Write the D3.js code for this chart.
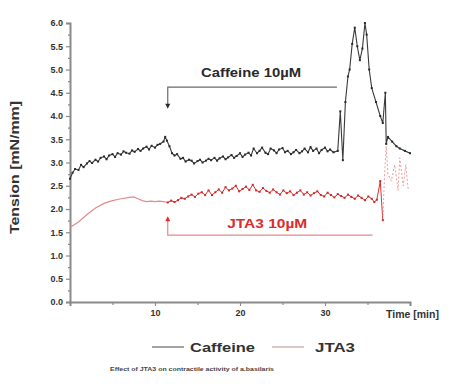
<!DOCTYPE html>
<html>
<head>
<meta charset="utf-8">
<script src="https://cdn.jsdelivr.net/npm/d3@7"></script>
<style>
  body { margin: 0; background: #fff; }
  svg { display: block; font-family: "Liberation Sans", Arial, sans-serif; font-weight: bold; }
</style>
</head>
<body>
<div id="chart"></div>
<script>
// Caffeine trace (time in min, tension in mN/mm)
const caffeineTime = [0, 0.3, 0.6, 1.0, 1.3, 1.6, 2.0, 2.3, 2.6, 3.0, 3.3, 3.6, 4.0, 4.3, 4.6, 5.0, 5.3, 5.6, 6.0, 6.3, 6.6, 7.0, 7.3, 7.6, 8.0, 8.3, 8.6, 9.0, 9.3, 9.6, 10.0, 10.3, 10.6, 11.0, 11.2, 11.4, 11.7, 12.0, 12.3, 12.6, 13.0, 13.3, 13.6, 14.0, 14.3, 14.6, 15.0, 15.3, 15.6, 16.0, 16.3, 16.6, 17.0, 17.3, 17.6, 18.0, 18.3, 18.6, 19.0, 19.3, 19.6, 20.0, 20.3, 20.6, 21.0, 21.3, 21.6, 22.0, 22.3, 22.6, 23.0, 23.3, 23.6, 24.0, 24.3, 24.6, 25.0, 25.3, 25.6, 26.0, 26.3, 26.6, 27.0, 27.3, 27.6, 28.0, 28.3, 28.6, 29.0, 29.3, 29.6, 30.0, 30.3, 30.6, 31.0, 31.5, 31.8, 32.1, 32.4, 32.7, 32.9, 33.2, 33.5, 33.8, 34.1, 34.4, 34.7, 34.9, 35.2, 35.5, 36.0, 36.5, 36.8, 37.1, 37.2, 37.4, 37.9, 38.4, 38.8, 39.4, 40.0];
const caffeineValue = [2.65, 2.78, 2.86, 2.84, 2.95, 2.9, 2.98, 3.03, 2.99, 3.06, 3.02, 3.1, 3.13, 3.07, 3.15, 3.18, 3.12, 3.2, 3.17, 3.24, 3.21, 3.19, 3.26, 3.23, 3.29, 3.25, 3.3, 3.34, 3.28, 3.36, 3.32, 3.38, 3.4, 3.45, 3.55, 3.47, 3.35, 3.2, 3.15, 3.18, 3.08, 3.1, 3.02, 3.06, 3.04, 2.98, 3.03, 3.06, 3.0, 3.04, 3.08, 3.05, 3.1, 3.04, 3.09, 3.13, 3.07, 3.11, 3.16, 3.1, 3.14, 3.2, 3.12, 3.17, 3.21, 3.15, 3.3, 3.2, 3.25, 3.32, 3.21, 3.18, 3.3, 3.26, 3.2, 3.28, 3.31, 3.22, 3.25, 3.18, 3.22, 3.27, 3.2, 3.24, 3.3, 3.22, 3.33, 3.25, 3.3, 3.2, 3.27, 3.32, 3.24, 3.28, 3.22, 3.25, 4.1, 3.05, 4.3, 4.85, 5.0, 5.55, 5.9, 5.5, 5.2, 5.45, 6.0, 5.75, 5.0, 4.6, 4.3, 4.0, 3.85, 4.5, 3.4, 3.55, 3.45, 3.35, 3.3, 3.25, 3.2];

// JTA3 trace
const jtaTime = [0, 1, 2, 3, 4, 5, 6, 7, 7.5, 8, 8.5, 9, 9.5, 10, 10.5, 11, 11.5, 11.9, 12.3, 12.7, 13.1, 13.5, 13.9, 14.3, 14.7, 15.1, 15.5, 15.9, 16.3, 16.7, 17.1, 17.5, 17.9, 18.3, 18.7, 19.1, 19.5, 19.9, 20.3, 20.7, 21.1, 21.5, 21.9, 22.3, 22.7, 23.1, 23.5, 23.9, 24.3, 24.7, 25.1, 25.5, 25.9, 26.3, 26.7, 27.1, 27.5, 27.9, 28.3, 28.7, 29.1, 29.5, 29.9, 30.3, 30.7, 31.1, 31.5, 31.9, 32.3, 32.7, 33.1, 33.5, 33.9, 34.3, 34.7, 35.1, 35.5, 35.8, 36.1, 36.5, 36.8, 37.0, 37.2, 37.4, 37.8, 38.2, 38.6, 38.8, 39.2, 39.5, 39.8];
const jtaValue = [1.6, 1.72, 1.88, 2.02, 2.12, 2.18, 2.22, 2.25, 2.26, 2.22, 2.18, 2.16, 2.17, 2.16, 2.17, 2.16, 2.14, 2.18, 2.15, 2.19, 2.24, 2.22, 2.27, 2.31, 2.26, 2.33, 2.36, 2.3, 2.4, 2.3, 2.36, 2.42, 2.35, 2.47, 2.4, 2.44, 2.5, 2.38, 2.43, 2.48, 2.41, 2.52, 2.4, 2.37, 2.45, 2.39, 2.35, 2.42, 2.36, 2.31, 2.4, 2.34, 2.38, 2.3, 2.35, 2.4, 2.31, 2.36, 2.29, 2.34, 2.38, 2.3, 2.27, 2.35, 2.3, 2.25, 2.32, 2.28, 2.24, 2.31, 2.26, 2.22, 2.29, 2.24, 2.19, 2.27, 2.22, 2.15, 2.2, 2.6, 1.76, 2.7, 3.35, 2.75, 2.6, 2.95, 2.4, 3.1, 2.5, 2.95, 2.4];

const xTicks = [10, 20, 30];
const yTicks = [0, 0.5, 1, 1.5, 2, 2.5, 3, 3.5, 4, 4.5, 5, 5.5, 6];

// annotation brackets, in data units
const caffeineMark = { label: 'Caffeine 10\u00b5M', t0: 11.5, t1: 31.4, level: 4.62, arm: 4.2, textT: 21.3, textV: 4.83 };
const jtaMark = { label: 'JTA3 10\u00b5M', t0: 11.5, t1: 35.6, level: 1.44, arm: 1.8, textT: 23.2, textV: 1.6 };

const seriesNames = ['Caffeine', 'JTA3'];

const W = 456, H = 385;
const svg = d3.select('#chart').append('svg').attr('width', W).attr('height', H);

const x = d3.scaleLinear().domain([0, 40]).range([70, 410]);
const y = d3.scaleLinear().domain([0, 6]).range([302, 23]);

const axisColor = '#8a8a8a';

// y axis
svg.append('g')
  .attr('transform', `translate(${x(0)},0)`)
  .call(d3.axisLeft(y).tickValues(yTicks).tickFormat(d3.format('.1f')).tickSize(4).tickPadding(3));
svg.append('g')
  .attr('transform', `translate(${x(0)},0)`)
  .call(d3.axisLeft(y).tickValues(d3.range(0.25, 6, 0.5)).tickFormat('').tickSize(2))
  .call(g => g.select('.domain').remove());

// x axis
svg.append('g')
  .attr('transform', `translate(0,${y(0)})`)
  .call(d3.axisBottom(x).tickValues(xTicks).tickSize(4).tickPadding(4));
svg.append('g')
  .attr('transform', `translate(0,${y(0)})`)
  .call(d3.axisBottom(x).tickValues([5, 15, 25, 35, 40]).tickFormat('').tickSize(3))
  .call(g => g.select('.domain').remove());

svg.selectAll('.domain').attr('stroke', axisColor).attr('stroke-width', 2);
svg.selectAll('.tick line').attr('stroke', axisColor).attr('stroke-width', 1.2);
svg.selectAll('.tick text').attr('fill', '#333').style('font-size', '9px').style('font-weight', 'bold');

// axis titles
svg.append('text')
  .attr('transform', `translate(19,${(y(0) + y(6)) / 2 + 5}) rotate(-90)`)
  .attr('text-anchor', 'middle')
  .attr('fill', '#333')
  .style('font-size', '12px')
  .attr('textLength', 133).attr('lengthAdjust', 'spacingAndGlyphs')
  .text('Tension [mN/mm]');

svg.append('text')
  .attr('x', 386).attr('y', 318)
  .attr('fill', '#333')
  .style('font-size', '10.5px')
  .text('Time [min]');

// traces
const caffeine = caffeineTime.map((t, i) => ({ t, v: caffeineValue[i] }));
const jta = jtaTime.map((t, i) => ({ t, v: jtaValue[i] }));

const line = d3.line().x(d => x(d.t)).y(d => y(d.v));

const jtaStart = jta.filter(d => d.t <= 11.5);
const jtaMid = jta.filter(d => d.t >= 11.5 && d.t <= 36.8);
const jtaTail = jta.filter(d => d.t >= 36.8);

svg.append('path').datum(jtaStart)
  .attr('fill', 'none').attr('stroke', '#e58a8a').attr('stroke-width', 1.2)
  .attr('d', line);
svg.append('path').datum(jtaMid)
  .attr('fill', 'none').attr('stroke', '#d83030').attr('stroke-width', 1)
  .attr('d', line);
svg.append('path').datum(jtaTail)
  .attr('fill', 'none').attr('stroke', '#ee9a9a').attr('stroke-width', 1)
  .attr('stroke-dasharray', '2,2')
  .attr('d', line);
svg.selectAll('rect.jta')
  .data(jtaMid)
  .join('rect')
  .attr('class', 'jta')
  .attr('x', d => x(d.t) - 1).attr('y', d => y(d.v) - 1)
  .attr('width', 2).attr('height', 2)
  .attr('fill', '#d02828');

svg.append('path').datum(caffeine)
  .attr('fill', 'none').attr('stroke', '#3a3a3a').attr('stroke-width', 1.1)
  .attr('d', line);
svg.selectAll('rect.caf')
  .data(caffeine)
  .join('rect')
  .attr('class', 'caf')
  .attr('x', d => x(d.t) - 1).attr('y', d => y(d.v) - 1)
  .attr('width', 2).attr('height', 2)
  .attr('fill', '#2a2a2a');

// annotation brackets
function bracket(m, stroke, textFill, arrowDir, textLen) {
  const g = svg.append('g');
  g.append('path')
    .attr('fill', 'none').attr('stroke', stroke).attr('stroke-width', 1.2)
    .attr('d', `M${x(m.t1)},${y(m.level)}H${x(m.t0)}V${y(m.arm)}`);
  const ax = x(m.t0), ay = y(m.arm);
  g.append('path')
    .attr('fill', textFill)
    .attr('d', `M${ax - 2.5},${ay - 3 * arrowDir}L${ax + 2.5},${ay - 3 * arrowDir}L${ax},${ay + 2 * arrowDir}Z`);
  g.append('text')
    .attr('x', x(m.textT)).attr('y', y(m.textV))
    .attr('text-anchor', 'middle')
    .attr('fill', textFill)
    .style('font-size', '12px')
    .attr('textLength', textLen).attr('lengthAdjust', 'spacingAndGlyphs')
    .text(m.label);
}
bracket(caffeineMark, '#6a6a6a', '#2a2a2a', 1, 100);
bracket(jtaMark, '#e08a90', '#e02a2a', -1, 80);

// legend
const legendColors = ['#666', '#c9a0a0'];
const legendX = [152, 272];
const legend = svg.append('g').selectAll('g')
  .data(seriesNames)
  .join('g')
  .attr('transform', (d, i) => `translate(${legendX[i]},347)`);
legend.append('line')
  .attr('x1', 0).attr('x2', 32)
  .attr('stroke', (d, i) => legendColors[i]).attr('stroke-width', 1.2);
legend.append('text')
  .attr('x', (d, i) => i === 0 ? 38 : 43).attr('y', 4.5)
  .attr('fill', '#333')
  .style('font-size', '12px')
  .attr('textLength', (d, i) => i === 0 ? 65 : 40).attr('lengthAdjust', 'spacingAndGlyphs')
  .text(d => d);

// caption
svg.append('text')
  .attr('x', 110).attr('y', 371)
  .attr('fill', '#444')
  .style('font-size', '6px')
  .attr('textLength', 164).attr('lengthAdjust', 'spacingAndGlyphs')
  .text('Effect of JTA3 on contractile activity of a.basilaris');
</script>
</body>
</html>
